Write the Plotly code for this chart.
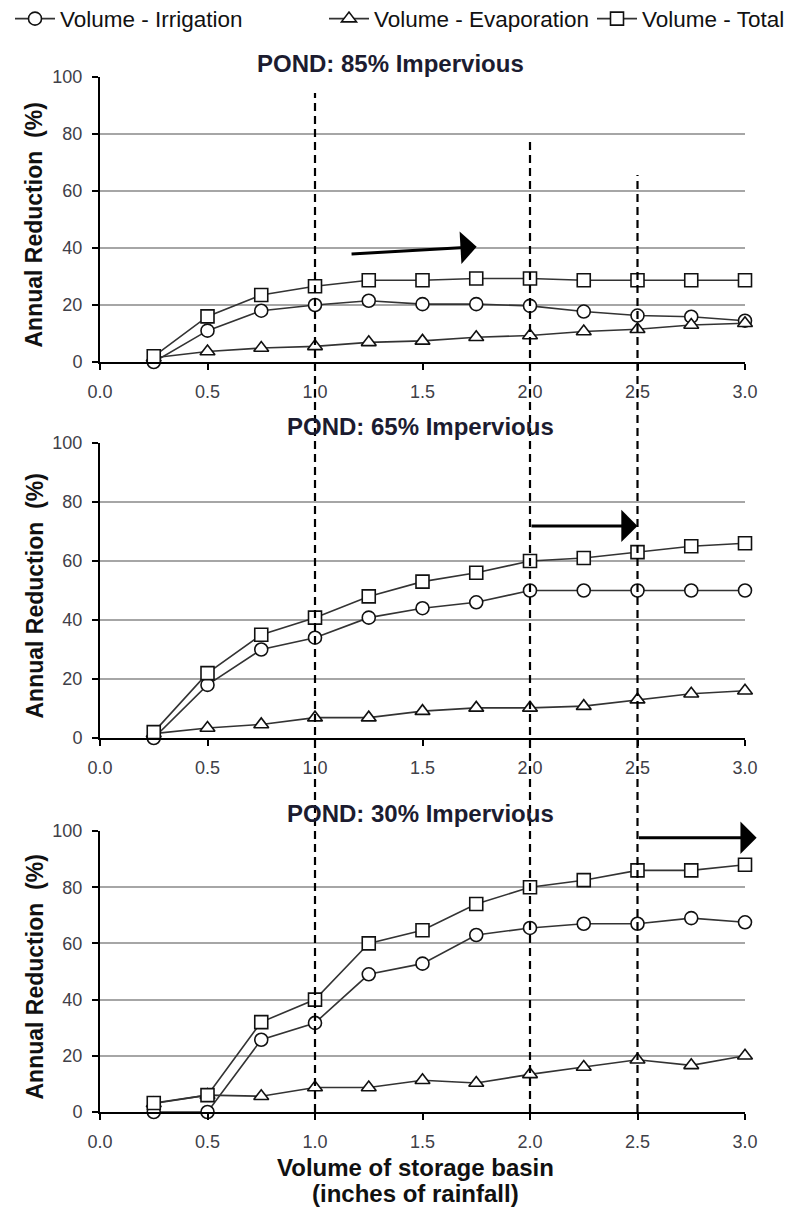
import plotly.graph_objects as go

# ---------------- data ----------------
volume = [0.25, 0.5, 0.75, 1.0, 1.25, 1.5, 1.75, 2.0, 2.25, 2.5, 2.75, 3.0]

p85_irrigation = [0, 11, 18, 20, 21.5, 20.3, 20.3, 19.7, 17.7, 16.3, 15.9, 14.5]
p85_evaporation = [1.5, 3.7, 4.9, 5.5, 6.9, 7.4, 8.7, 9.3, 10.7, 11.5, 13, 13.6]
p85_total = [2, 16, 23.5, 26.6, 28.7, 28.7, 29.3, 29.3, 28.7, 28.7, 28.7, 28.7]

p65_irrigation = [0, 18, 30, 34, 40.8, 44, 46, 50, 50, 50, 50, 50]
p65_evaporation = [1.5, 3.4, 4.6, 6.9, 6.9, 9.1, 10.2, 10.2, 10.8, 13, 15, 16]
p65_total = [2, 22, 35, 40.8, 48, 53, 56, 60, 61, 63, 65, 66]

p30_irrigation = [0, 0, 25.7, 31.7, 49, 52.8, 63, 65.5, 67, 67, 69, 67.5]
p30_evaporation = [3, 6, 5.6, 8.7, 8.7, 11.3, 10.3, 13.4, 16, 18.6, 16.6, 20]
p30_total = [3.2, 6, 32, 40, 60, 64.7, 74, 80, 82.5, 86, 86, 88]

panel_titles = ["POND: 85% Impervious", "POND: 65% Impervious", "POND: 30% Impervious"]
series_names = ["Volume - Irrigation", "Volume - Evaporation", "Volume - Total"]
series_symbols = ["circle", "triangle-up", "square"]
x_ticks = [0.0, 0.5, 1.0, 1.5, 2.0, 2.5, 3.0]
x_ticklabels = ["0.0", "0.5", "1.0", "1.5", "2.0", "2.5", "3.0"]
y_ticks = [0, 20, 40, 60, 80, 100]

# reference (dashed) volumes and arrows
ref_lines = [1.0, 2.0, 2.5]
ref_tops = [0.9845, 0.939, 0.9053]
arrows = [  # (panel, x_tail, y_tail, x_tip, y_tip)
    (0, 1.163, 37.9, 1.752, 40.4),
    (1, 2.0, 71.9, 2.5, 71.9),
    (2, 2.5, 97.6, 3.054, 97.6),
]

panels = [
    (p85_irrigation, p85_evaporation, p85_total),
    (p65_irrigation, p65_evaporation, p65_total),
    (p30_irrigation, p30_evaporation, p30_total),
]

# ---------------- layout geometry ----------------
W, H = 794, 1213
ML, MR, MT, MB = 100, 49, 77, 101
plot_w = W - ML - MR
plot_h = H - MT - MB
panel_px = [(77, 362), (443, 738), (831, 1112)]  # top, bottom pixel


def py(p):
    return (H - MB - p) / plot_h


def pxp(p):
    return (p - ML) / plot_w


domains = [[py(b), py(t)] for t, b in panel_px]
title_px = [(1.35, 63), (1.49, 427), (1.49, 813)]
legend_left_px = [10, 324, 592]
legend_names = ["legend", "legend2", "legend3"]

fig = go.Figure()
line_col = "#333333"
for i, data in enumerate(panels):
    xa = "x" if i == 0 else f"x{i+1}"
    ya = "y" if i == 0 else f"y{i+1}"
    for j, vals in enumerate(data):
        fig.add_trace(go.Scatter(
            x=volume, y=vals, mode="lines+markers", name=series_names[j],
            showlegend=(i == 0), legend=legend_names[j],
            xaxis=xa, yaxis=ya, cliponaxis=False,
            line=dict(color=line_col, width=1.6),
            marker=dict(symbol=series_symbols[j], size=13,
                        color="white", line=dict(color="#111111", width=1.6)),
        ))

axis_font = dict(family="Arial, Liberation Sans, sans-serif", size=18, color="#404048")
legend_font = dict(family="Arial, Liberation Sans, sans-serif", size=22.5, color="#111111")
layout = dict(
    width=W, height=H,
    margin=dict(l=ML, r=MR, t=MT, b=MB, autoexpand=False),
    paper_bgcolor="white", plot_bgcolor="white",
    showlegend=True,
)
for k, lname in enumerate(legend_names):
    layout[lname] = dict(orientation="h", x=pxp(legend_left_px[k]), y=py(19),
                         xanchor="left", yanchor="middle", font=legend_font,
                         itemwidth=40, bgcolor="rgba(0,0,0,0)")
for i in range(3):
    sx = "" if i == 0 else str(i + 1)
    layout["xaxis" + sx] = dict(
        domain=[0, 1], anchor="y" + sx, range=[0, 3],
        tickmode="array", tickvals=x_ticks, ticktext=x_ticklabels,
        ticks="outside", ticklen=6, tickwidth=2, tickcolor="black",
        showline=True, linecolor="black", linewidth=2,
        showgrid=False, zeroline=False, tickfont=axis_font, ticklabelstandoff=6,
    )
    layout["yaxis" + sx] = dict(
        domain=domains[i], anchor="x" + sx, range=[0, 100],
        tickmode="array", tickvals=y_ticks,
        ticks="outside", ticklen=6, tickwidth=2, tickcolor="black",
        showline=True, linecolor="black", linewidth=2,
        showgrid=True, gridcolor="#a6a6a6", gridwidth=1.6,
        zeroline=False, tickfont=axis_font, ticklabelstandoff=6,
    )
fig.update_layout(**layout)

bold_font = dict(family="Arial, Liberation Sans, sans-serif", size=23, color="#111111")
annotations = []
for i in range(3):
    sx = "" if i == 0 else str(i + 1)
    tx, tpx = title_px[i]
    annotations.append(dict(
        text="<b>" + panel_titles[i] + "</b>", xref="x" + sx, yref="paper",
        x=tx, y=py(tpx), showarrow=False, xanchor="center", yanchor="middle",
        font=dict(family="Arial, Liberation Sans, sans-serif", size=24, color="#1c1c30"),
    ))
    t, b = panel_px[i]
    annotations.append(dict(
        text="<b>Annual Reduction  (%)</b>", xref="paper", yref="paper",
        x=pxp(34), y=py((t + b) / 2 + 6), textangle=-90,
        showarrow=False, xanchor="center", yanchor="middle", font=bold_font,
    ))
for (p, xt, yt, xh, yh) in arrows:
    sx = "" if p == 0 else str(p + 1)
    annotations.append(dict(
        x=xh, y=yh, ax=xt, ay=yt, xref="x" + sx, yref="y" + sx,
        axref="x" + sx, ayref="y" + sx, text="", showarrow=True,
        arrowhead=1, arrowsize=1.8, arrowwidth=3, arrowcolor="black", standoff=0,
    ))
annotations.append(dict(
    text="<b>Volume of storage basin</b>", xref="paper", yref="paper",
    x=pxp(415), y=py(1167), showarrow=False,
    xanchor="center", yanchor="middle", font=dict(bold_font, size=24),
))
annotations.append(dict(
    text="<b>(inches of rainfall)</b>", xref="paper", yref="paper",
    x=pxp(415), y=py(1193), showarrow=False,
    xanchor="center", yanchor="middle", font=dict(bold_font, size=24),
))
fig.update_layout(annotations=annotations)

shapes = []
for xv, top in zip(ref_lines, ref_tops):
    shapes.append(dict(type="line", xref="x", yref="paper", x0=xv, x1=xv, y0=0, y1=top,
                       line=dict(color="black", width=2.2, dash="8px,5px"), layer="above"))
fig.update_layout(shapes=shapes)

fig.write_html("out.html", config={"displayModeBar": False},
               post_script="document.body.style.margin='0px';document.body.style.overflow='hidden';")
